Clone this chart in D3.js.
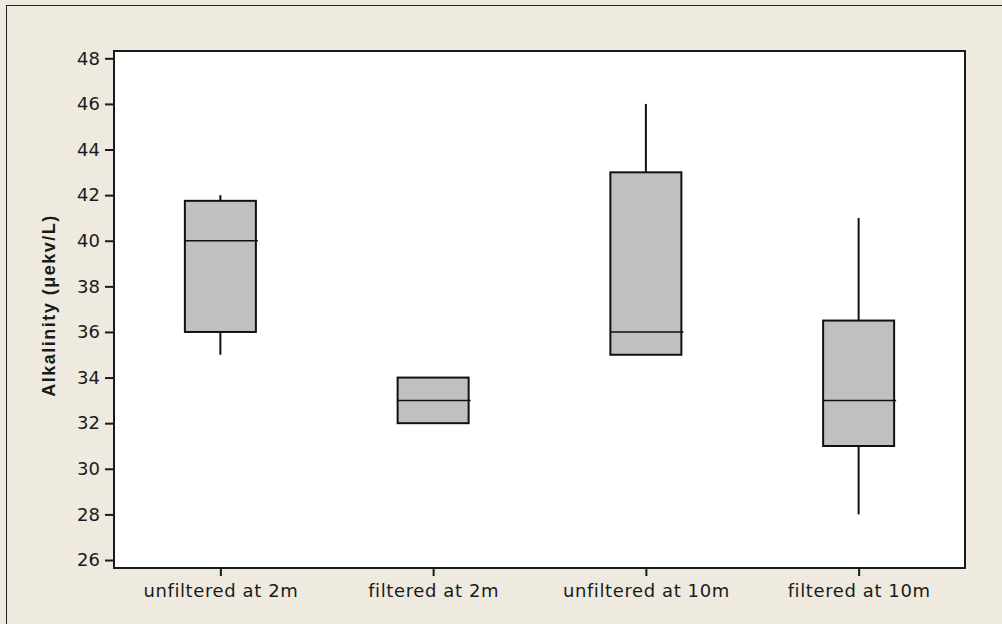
<!DOCTYPE html>
<html>
<head>
<meta charset="utf-8">
<script src="https://cdn.jsdelivr.net/npm/d3@7"></script>
<style>
  body { margin: 0; background: #eeeae0; }
  svg { display: block; }
</style>
</head>
<body>
<svg width="1002" height="624"></svg>
<script>
// box plot values
var categories = ['unfiltered at 2m', 'filtered at 2m', 'unfiltered at 10m', 'filtered at 10m'];
var whiskerLow = [35, 32, 35, 28];
var q1 = [36, 32, 35, 31];
var median = [40, 33, 36, 33];
var q3 = [41.75, 34, 43, 36.5];
var whiskerHigh = [42, 34, 46, 41];
var yTicks = [26, 28, 30, 32, 34, 36, 38, 40, 42, 44, 46, 48];

var svg = d3.select('svg'),
    plot = {left: 114, top: 51, right: 965, bottom: 568},
    boxWidth = 71;

var data = categories.map((c, i) => ({
  name: c, lo: whiskerLow[i], q1: q1[i], med: median[i], q3: q3[i], hi: whiskerHigh[i]
}));

var x = d3.scalePoint().domain(categories).range([plot.left, plot.right]).padding(0.5);
var y = d3.scaleLinear().domain([25.65, 48.32]).range([plot.bottom, plot.top]);

// outer frame
svg.append('rect')
  .attr('x', 6.5).attr('y', 5.5)
  .attr('width', 1010).attr('height', 630)
  .attr('fill', '#eeeae0')
  .attr('stroke', '#222').attr('stroke-width', 1);

// plot area
svg.append('rect')
  .attr('x', plot.left).attr('y', plot.top)
  .attr('width', plot.right - plot.left).attr('height', plot.bottom - plot.top)
  .attr('fill', '#fff')
  .attr('stroke', '#1a1a1a').attr('stroke-width', 2);

// axes
var yAxis = svg.append('g')
  .attr('transform', `translate(${plot.left - 1},0)`)
  .call(d3.axisLeft(y).tickValues(yTicks).tickSize(8).tickPadding(5));

var xAxis = svg.append('g')
  .attr('transform', `translate(0,${plot.bottom + 1})`)
  .call(d3.axisBottom(x).tickSize(7).tickPadding(8));

[yAxis, xAxis].forEach(a => {
  a.select('.domain').remove();
  a.selectAll('line').attr('stroke', '#1a1a1a').attr('stroke-width', 2);
  a.selectAll('text')
    .attr('fill', '#1a1a1a')
    .style('font-family', '"DejaVu Sans", Verdana, sans-serif')
    .style('font-size', '18px');
});
xAxis.selectAll('text').style('letter-spacing', '0.6px');

svg.append('text')
  .attr('transform', `translate(55,${(plot.top + plot.bottom) / 2 - 4}) rotate(-90)`)
  .attr('text-anchor', 'middle')
  .attr('fill', '#1a1a1a')
  .style('font-family', '"Liberation Sans", Arial, sans-serif')
  .style('font-weight', 'bold')
  .style('font-size', '18px')
  .style('letter-spacing', '1.5px')
  .text('Alkalinity (μekv/L)');

// boxes
var boxes = svg.append('g').selectAll('g')
  .data(data)
  .join('g');

boxes.append('line')
  .attr('x1', d => x(d.name)).attr('x2', d => x(d.name))
  .attr('y1', d => y(d.hi)).attr('y2', d => y(d.q3))
  .attr('stroke', '#111').attr('stroke-width', 2);

boxes.append('line')
  .attr('x1', d => x(d.name)).attr('x2', d => x(d.name))
  .attr('y1', d => y(d.q1)).attr('y2', d => y(d.lo))
  .attr('stroke', '#111').attr('stroke-width', 2);

boxes.append('rect')
  .attr('x', d => x(d.name) - boxWidth / 2)
  .attr('y', d => y(d.q3))
  .attr('width', boxWidth)
  .attr('height', d => y(d.q1) - y(d.q3))
  .attr('fill', '#c0c0c0')
  .attr('stroke', '#111').attr('stroke-width', 2);

boxes.append('line')
  .attr('x1', d => x(d.name) - boxWidth / 2)
  .attr('x2', d => x(d.name) + boxWidth / 2 + 2)
  .attr('y1', d => y(d.med)).attr('y2', d => y(d.med))
  .attr('stroke', '#111').attr('stroke-width', 1.5);
</script>
</body>
</html>
